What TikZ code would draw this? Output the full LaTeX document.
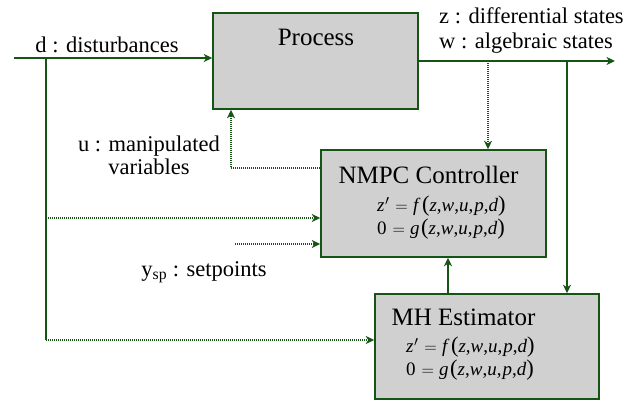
\documentclass[tikz,border=0pt]{standalone}
\usepackage{fontspec}
\setmainfont{Liberation Serif}
\newfontfamily\blockfont{Liberation Serif}
\usetikzlibrary{arrows.meta}
\definecolor{linegreen}{RGB}{22,84,22}
\definecolor{boxgray}{RGB}{208,208,208}
\newcommand{\bigparen}[1]{{\fontsize{22.5}{26}\selectfont #1}}
\newcommand{\eqf}{\textit{z}\kern0.5pt$'$\kern1pt${}={}$\kern0.5pt\textit{f}\kern1.5pt\bigparen{(}\textit{z},\textit{w},\textit{u},\kern1pt\textit{p},\textit{d}\bigparen{)}}
\newcommand{\eqg}{0\kern1pt${}={}$\kern0.5pt\textit{g}\kern1.5pt\bigparen{(}\textit{z},\textit{w},\textit{u},\kern1pt\textit{p},\textit{d}\bigparen{)}}
\tikzset{
  blockbox/.style={draw=linegreen, line width=1.5pt, fill=boxgray, inner sep=0pt},
  title/.style={font=\blockfont\fontsize{25}{29}\selectfont, inner sep=0pt},
  lbl/.style={font=\blockfont\fontsize{22.5}{26}\selectfont, inner sep=0pt},
  eqn/.style={font=\blockfont\fontsize{19}{26}\selectfont, inner sep=0pt, align=left, anchor=west},
  wire/.style={draw=linegreen, line width=1.6pt},
  dotwire/.style={draw=linegreen, line width=2.1pt, dash pattern=on 1.1pt off 0.9pt},
  tip/.style={-{Stealth[length=8.5pt,width=8pt,inset=2.5pt]}},
}
\begin{document}
\begin{tikzpicture}[x=1pt,y=-1pt]
\useasboundingbox (0,0) rectangle (640,401);

% blocks
\node[blockbox, minimum width=205pt, minimum height=96pt] (proc) at (315.5,61) {};
\node[title] (proct) at (316,37) {Process};

\node[blockbox, minimum width=225pt, minimum height=107pt] (nmpc) at (433.5,203.5) {};
\node[title] (nmpct) at (428.5,175) {NMPC Controller};
\node[eqn] (nmpce1) at (377,206) {\eqf};
\node[eqn] (nmpce2) at (377,229) {\eqg};

\node[blockbox, minimum width=224pt, minimum height=105pt] (mhe) at (487,346.5) {};
\node[title] (mhet) at (463.5,317) {MH Estimator};
\node[eqn] (mhee1) at (406,347) {\eqf};
\node[eqn] (mhee2) at (406,370) {\eqg};

% labels
\node[lbl] (dlbl) at (107,45) {d : disturbances};
\node[lbl, anchor=west] (zlbl) at (439,16) {z : differential states};
\node[lbl, anchor=west] (wlbl) at (439,43) {w : algebraic states};
\node[lbl, align=center] (ulbl) at (149,155) {u : manipulated\\[-3pt]variables};
\node[lbl] (splbl) at (204,272) {y\textsubscript{sp} : setpoints};

% connection points
\coordinate (din) at (14,58);
\coordinate (dsplit) at (46,58);
\coordinate (dturn) at (46,340);
\coordinate (dmid) at (46,218);
\coordinate (spin) at (235,244);
\coordinate (zout) at (615,61);
\coordinate (ztap1) at (488,61);
\coordinate (ztap2) at (567,61);
\coordinate (ucorner) at (231,168);
\coordinate (mhout) at (448,0);

% disturbances
\draw[wire, tip] (din) -- (din -| proc.west);
\draw[wire] (dsplit) -- (dturn);
\draw[dotwire, tip] (dturn) -- (dturn -| mhe.west);
\draw[dotwire, tip] (dmid) -- (dmid -| nmpc.west);
% setpoints
\draw[dotwire, tip] (spin) -- (spin -| nmpc.west);
% states
\draw[wire, tip] (proc.east) -- (zout);
\draw[dotwire, tip] (ztap1) -- (ztap1 |- nmpc.north);
\draw[wire, tip] (ztap2) -- (ztap2 |- mhe.north);
% manipulated variables
\draw[dotwire, tip] (ucorner -| nmpc.west) -- (ucorner) -- (ucorner |- proc.south);
% estimator to controller
\draw[wire, tip] (mhout |- mhe.north) -- (mhout |- nmpc.south);
\end{tikzpicture}
\end{document}
